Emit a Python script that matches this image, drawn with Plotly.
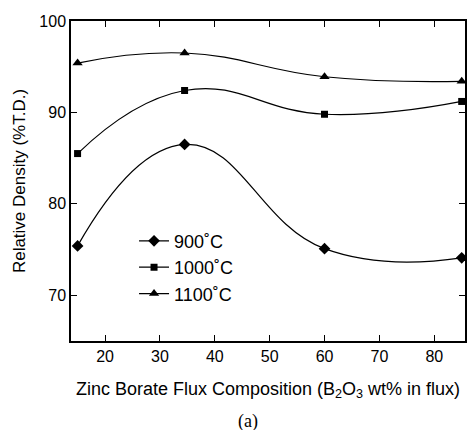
import plotly.graph_objects as go

# Flux composition (B2O3 wt% in flux)
composition = [15, 34.5, 60, 85]

# Relative density (%T.D.) at each sintering temperature
density_900 = [75.4, 86.5, 75.1, 74.1]
density_1000 = [85.5, 92.4, 89.8, 91.2]
density_1100 = [95.4, 96.5, 93.9, 93.4]

series_names = ["900˚C", "1000˚C", "1100˚C"]
series_symbols = ["diamond", "square", "triangle-up"]
series_sizes = [9, 7, 9]

x_ticks = [20, 30, 40, 50, 60, 70, 80]
y_ticks = [70, 80, 90, 100]

font_family = "Liberation Sans, Arial, sans-serif"

fig = go.Figure()
for name, vals, sym, sz in zip(series_names, [density_900, density_1000, density_1100],
                               series_symbols, series_sizes):
    fig.add_trace(go.Scatter(
        x=composition, y=vals, name=name,
        mode="lines+markers",
        line=dict(color="black", width=1.2, shape="spline", smoothing=1.3),
        marker=dict(symbol=sym, size=sz, color="black"),
    ))

axis_common = dict(
    showline=True, linecolor="black", linewidth=1.5,
    ticks="inside", ticklen=6, tickwidth=1.3, tickcolor="black",
    mirror="ticks", showgrid=False, zeroline=False,
    tickfont=dict(family=font_family, size=16, color="black"),
)

fig.update_xaxes(
    range=[13.8, 85.6], tickvals=x_ticks,
    title=dict(text="Zinc Borate Flux Composition (B<sub>2</sub>O<sub>3</sub> wt% in flux)",
               font=dict(family=font_family, size=18, color="black"), standoff=18),
    **axis_common,
)
fig.update_yaxes(
    range=[65, 100], tickvals=y_ticks,
    title=dict(text="Relative Density (%T.D.)",
               font=dict(family=font_family, size=17, color="black"), standoff=9),
    **axis_common,
)

fig.add_annotation(
    text="(a)", xref="paper", yref="paper", x=0.45, y=-0.25,
    yanchor="middle", showarrow=False,
    font=dict(family="Liberation Serif, Times New Roman, serif", size=18, color="black"),
)

fig.update_layout(
    width=470, height=430,
    margin=dict(l=71, r=3, t=21, b=89),
    plot_bgcolor="white", paper_bgcolor="white",
    showlegend=True,
    legend=dict(
        x=0.16, y=0.37, xanchor="left", yanchor="top",
        bgcolor="rgba(0,0,0,0)", itemwidth=30, tracegroupgap=0,
        font=dict(family=font_family, size=18, color="black"),
    ),
)

fig.write_html("out.html")
